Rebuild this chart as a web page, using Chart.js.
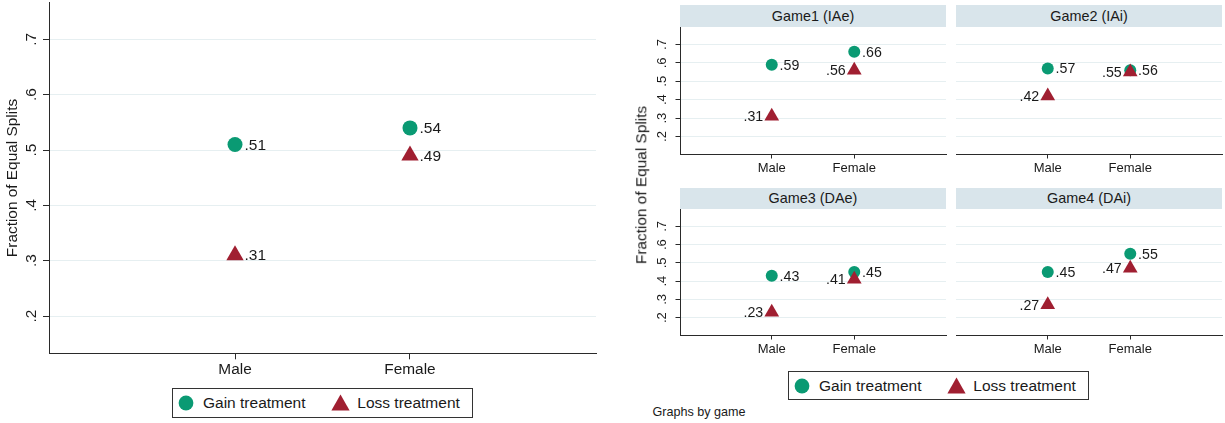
<!DOCTYPE html>
<html>
<head>
<meta charset="utf-8">
<title>Fraction of Equal Splits by gender and treatment</title>
<script src="https://cdn.jsdelivr.net/npm/chart.js@4.4.1/dist/chart.umd.min.js"></script>
<style>
  html, body { margin: 0; padding: 0; background: #fff; }
  body {
    width: 1225px; height: 423px; position: relative; overflow: hidden;
    font-family: "Liberation Sans", Arial, Helvetica, sans-serif; color: #1a1a1a;
  }
  canvas { position: absolute; }
  .strip {
    position: absolute; background: #d9e5eb; text-align: center;
    font-size: 14.4px; white-space: nowrap;
  }
  .legend { position: absolute; border: 1px solid #333; box-sizing: border-box; background: #fff; }
  .legend span { position: absolute; top: 0; font-size: 15.5px; white-space: nowrap; }
  .legend svg { position: absolute; }
  .ytitle {
    position: absolute; white-space: nowrap; font-size: 15.4px; line-height: 1;
    transform: translate(-50%, -50%) rotate(-90deg);
  }
  .note { position: absolute; font-size: 12.6px; line-height: 1; white-space: nowrap; }
</style>
</head>
<body>
<canvas id="pooled" width="610" height="382" style="left:0;top:0"></canvas>
<div id="facets"></div>

<script>
// ---- data ----
const categories = ['Male', 'Female'];
const yTickValues = [0.2, 0.3, 0.4, 0.5, 0.6, 0.7];

// all games pooled
const pooledGain = [0.51, 0.54];
const pooledLoss = [0.31, 0.49];

// by game
const games = ['Game1 (IAe)', 'Game2 (IAi)', 'Game3 (DAe)', 'Game4 (DAi)'];
const gainByGame = [[0.59, 0.66], [0.57, 0.56], [0.43, 0.45], [0.45, 0.55]];
const lossByGame = [[0.31, 0.56], [0.42, 0.55], [0.23, 0.41], [0.27, 0.47]];

const seriesNames = ['Gain treatment', 'Loss treatment'];
const yTitle = 'Fraction of Equal Splits';
const byNote = 'Graphs by game';

// ---- styling ----
const GREEN = '#0a9a73';
const RED = '#a01f31';
const INK = '#1a1a1a';
const AXIS = '#2a2a2a';
const GRID = '#e6eff1';
const FONT = '"Liberation Sans", Arial, Helvetica, sans-serif';

Chart.defaults.font.family = FONT;
Chart.defaults.color = INK;

const fmt2 = v => v.toFixed(2).replace(/^0/, '');
const fmt1 = v => v.toFixed(1).replace(/^0/, '');

// point values written beside each marker
const valueLabels = {
  id: 'valueLabels',
  afterDatasetsDraw(chart, args, o) {
    const ctx = chart.ctx;
    ctx.save();
    ctx.font = o.size + 'px ' + FONT;
    ctx.fillStyle = INK;
    ctx.textBaseline = 'middle';
    chart.data.datasets.forEach((ds, di) => {
      const meta = chart.getDatasetMeta(di);
      const left = ds.labelSide === 'left';
      ctx.textAlign = left ? 'right' : 'left';
      meta.data.forEach((pt, i) => {
        const dx = left ? -o.gapLeft : o.gapRight;
        ctx.fillText(fmt2(ds.data[i].y), pt.x + dx, pt.y + o.dy);
      });
    });
    ctx.restore();
  }
};

// y tick labels set vertically, reading upward
const verticalYTicks = {
  id: 'verticalYTicks',
  afterDraw(chart, args, o) {
    if (!o.show) return;
    const s = chart.scales.y, ctx = chart.ctx;
    ctx.save();
    ctx.font = o.size + 'px ' + FONT;
    ctx.fillStyle = INK;
    ctx.textAlign = 'center';
    ctx.textBaseline = 'alphabetic';
    s.ticks.forEach(t => {
      ctx.save();
      ctx.translate(chart.chartArea.left - o.gap, s.getPixelForValue(t.value));
      ctx.rotate(-Math.PI / 2);
      ctx.fillText(fmt1(t.value), 0, 0);
      ctx.restore();
    });
    ctx.restore();
  }
};

function points(vals) {
  return categories.map((c, i) => ({ x: i + 1, y: vals[i] }));
}

function plotConfig(gain, loss, g) {
  return {
    type: 'scatter',
    data: {
      datasets: [
        { label: seriesNames[1], data: points(loss), pointStyle: 'triangle',
          pointRadius: g.triR, pointBackgroundColor: RED, pointBorderWidth: 0,
          backgroundColor: RED, borderColor: RED, order: 0, labelSide: g.lossSide },
        { label: seriesNames[0], data: points(gain), pointStyle: 'circle',
          pointRadius: g.circR, pointBackgroundColor: GREEN, pointBorderWidth: 0,
          backgroundColor: GREEN, borderColor: GREEN, order: 1, labelSide: 'right' }
      ]
    },
    options: {
      responsive: false, animation: false, events: [], devicePixelRatio: 1,
      layout: { padding: g.padding, autoPadding: false },
      plugins: {
        legend: { display: false }, tooltip: { enabled: false },
        valueLabels: { size: g.labelSize, gapLeft: g.gapLeft, gapRight: g.gapRight, dy: g.dy },
        verticalYTicks: { show: g.yAxis, size: g.tickSize, gap: g.tickGap }
      },
      scales: {
        x: {
          type: 'linear', min: g.xMin, max: g.xMax,
          afterBuildTicks: s => { s.ticks = categories.map((c, i) => ({ value: i + 1 })); },
          afterFit: s => { s.height = g.xHeight; },
          ticks: { callback: v => categories[Math.round(v) - 1], font: { size: g.tickSize },
                   color: INK, padding: g.xPad, maxRotation: 0, autoSkip: false },
          grid: { drawOnChartArea: false, tickLength: g.tickLen, tickColor: AXIS, lineWidth: 1 },
          border: { display: true, color: AXIS, width: 1 }
        },
        y: {
          type: 'linear', min: g.yMin, max: g.yMax,
          afterBuildTicks: s => { s.ticks = yTickValues.map(v => ({ value: v })); },
          afterFit: s => { s.width = g.yWidth; },
          ticks: { display: false },
          title: g.title ? { display: true, text: yTitle, font: { size: 15.4 }, color: INK,
                             padding: { top: g.titlePad, bottom: 0 } } : { display: false },
          grid: { color: GRID, lineWidth: 1, drawTicks: g.yAxis, tickLength: g.tickLen, tickColor: AXIS },
          border: { display: g.yAxis, color: AXIS, width: 1 }
        }
      }
    },
    plugins: [valueLabels, verticalYTicks]
  };
}

// ---- pooled chart ----
new Chart(document.getElementById('pooled'), plotConfig(pooledGain, pooledLoss, {
  triR: 10, circR: 7.5, lossSide: 'right', labelSize: 15.5, gapLeft: 9.5, gapRight: 9.5, dy: 1,
  yAxis: true, tickSize: 15.4, tickGap: 13, tickLen: 6, xPad: 1, title: true, titlePad: 3.4,
  xMin: -0.063, xMax: 3.063, yMin: 0.1326, yMax: 0.7663,
  padding: { top: 2.7, right: 14, left: 0, bottom: 0 }, yWidth: 49, xHeight: 28.7
}));

// ---- one panel per game ----
const panelBoxes = [
  { x: 680, top: 27, bottom: 154, stripTop: 5, stripH: 22, yAxis: true },
  { x: 956, top: 27, bottom: 154, stripTop: 5, stripH: 22, yAxis: false },
  { x: 680, top: 209, bottom: 335, stripTop: 188, stripH: 21, yAxis: true },
  { x: 956, top: 209, bottom: 335, stripTop: 188, stripH: 21, yAxis: false }
];
const PANEL_W = 266;
const holder = document.getElementById('facets');

games.forEach((name, k) => {
  const b = panelBoxes[k];
  const strip = document.createElement('div');
  strip.className = 'strip';
  strip.textContent = name;
  strip.style.cssText = `left:${b.x}px;top:${b.stripTop}px;width:${PANEL_W}px;height:${b.stripH}px;line-height:${b.stripH}px`;
  holder.appendChild(strip);

  const yw = b.yAxis ? 60 : 0;
  const cv = document.createElement('canvas');
  const h = b.bottom - b.top + 26;
  cv.width = yw + PANEL_W + 3;
  cv.height = h;
  cv.style.left = (b.x - yw) + 'px';
  cv.style.top = b.top + 'px';
  holder.appendChild(cv);

  new Chart(cv, plotConfig(gainByGame[k], lossByGame[k], {
    triR: 8.5, circR: 6, lossSide: 'left', labelSize: 14.2, gapLeft: 8.5, gapRight: 7.8, dy: 1,
    yAxis: b.yAxis, tickSize: 13, tickGap: 14, tickLen: 4.5, xPad: 2, title: false,
    xMin: -0.112, xMax: 3.112, yMin: 0.105, yMax: 0.795,
    padding: { top: 0, right: 3, left: 0, bottom: 0 }, yWidth: yw, xHeight: 26
  }));
});

// shared axis title and note for the game panels
const yt = document.createElement('div');
yt.className = 'ytitle';
yt.textContent = yTitle;
yt.style.left = '641px';
yt.style.top = '185px';
holder.appendChild(yt);

const note = document.createElement('div');
note.className = 'note';
note.textContent = byNote;
note.style.left = '652.4px';
note.style.top = '405.9px';
holder.appendChild(note);

// ---- legends ----
function legend(left, top, h) {
  const box = document.createElement('div');
  box.className = 'legend';
  box.style.cssText = `left:${left}px;top:${top}px;width:301px;height:${h}px`;
  const mid = h / 2 - 1;
  const markers = [
    `<svg width="16" height="16" style="left:${14 - 8 - 1}px;top:${mid - 8}px"><circle cx="8" cy="8" r="7.4" fill="${GREEN}"/></svg>`,
    `<svg width="19" height="17" style="left:${168.7 - 9.5 - 1}px;top:${mid - 9}px"><polygon points="9.5,0.5 18.6,16.5 0.4,16.5" fill="${RED}"/></svg>`
  ];
  box.innerHTML = markers[0] +
    `<span style="left:${31 - 1}px;line-height:${h - 2}px">${seriesNames[0]}</span>` +
    markers[1] +
    `<span style="left:${185.3 - 1}px;line-height:${h - 2}px">${seriesNames[1]}</span>`;
  document.body.appendChild(box);
}
legend(172, 388, 30);
legend(788, 371, 29);
</script>
</body>
</html>
